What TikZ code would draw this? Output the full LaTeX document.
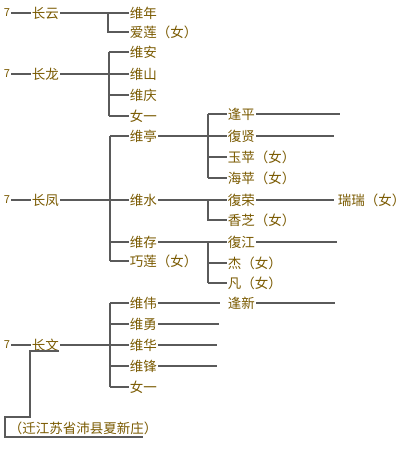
\documentclass[tikz,border=0pt]{standalone}
\usepackage{fontspec}
\setmainfont{Noto Sans CJK SC}
\definecolor{txt}{RGB}{122,90,0}
\definecolor{lncol}{RGB}{90,90,90}
\begin{document}
\begin{tikzpicture}[x=1pt,y=-1pt,
  nm/.style={anchor=west,inner sep=1.2pt,text=txt,font=\fontsize{13.5}{13.5}\selectfont},
  qm/.style={text=txt,inner sep=1pt,font=\fontsize{11}{11}\selectfont},
  ln/.style={draw=lncol,line width=1.3pt}]
\useasboundingbox[fill=white] (0,0) rectangle (416,451);
% generation 0
\node[qm] (q1) at (7,13) {7};
\node[qm] (q2) at (7,74) {7};
\node[qm] (q3) at (7,200) {7};
\node[qm] (q4) at (7,345) {7};
% generation 1
\node[nm] (g1) at (30.5,13) {长云};
\node[nm] (g2) at (30.5,74) {长龙};
\node[nm] (g3) at (30.5,200) {长凤};
\node[nm] (g4) at (30.5,345) {长文};
% generation 2
\node[nm] (c11) at (128.5,13) {维年};
\node[nm] (c12) at (128.5,32) {爱莲（女）};
\node[nm] (c21) at (128.5,52) {维安};
\node[nm] (c22) at (128.5,74) {维山};
\node[nm] (c23) at (128.5,95) {维庆};
\node[nm] (c24) at (128.5,116) {女一};
\node[nm] (c31) at (128.5,136) {维亭};
\node[nm] (c32) at (128.5,200) {维水};
\node[nm] (c33) at (128.5,242) {维存};
\node[nm] (c34) at (128.5,261) {巧莲（女）};
\node[nm] (c41) at (128.5,303) {维伟};
\node[nm] (c42) at (128.5,324) {维勇};
\node[nm] (c43) at (128.5,345) {维华};
\node[nm] (c44) at (128.5,366) {维锋};
\node[nm] (c45) at (128.5,387) {女一};
% generation 3
\node[nm] (d11) at (226.5,114) {逢平};
\node[nm] (d12) at (226.5,136) {復贤};
\node[nm] (d13) at (226.5,157) {玉苹（女）};
\node[nm] (d14) at (226.5,178) {海苹（女）};
\node[nm] (d21) at (226.5,200) {復荣};
\node[nm] (d22) at (226.5,220) {香芝（女）};
\node[nm] (d31) at (226.5,242) {復江};
\node[nm] (d32) at (226.5,263) {杰（女）};
\node[nm] (d33) at (226.5,283) {凡（女）};
\node[nm] (d41) at (226.5,303) {逢新};
% generation 4
\node[nm] (r1) at (336.5,200) {瑞瑞（女）};
% note
\node[nm] (note) at (7.5,428) {（迁江苏省沛县夏新庄）};
% bar positions
\coordinate (b1) at (108,0);
\coordinate (b2) at (109,0);
\coordinate (b3) at (110,0);
\coordinate (b4) at (110,0);
\coordinate (b5) at (208,0);
% ends of open lines
\coordinate (e1) at (340,0);
\coordinate (e2) at (334,0);
\coordinate (e3) at (337,0);
\coordinate (e4) at (335,0);
\coordinate (e5) at (220,0);
\coordinate (e6) at (219,0);
\coordinate (e7) at (217,0);
% 7 -- names
\foreach \a/\b in {q1/g1,q2/g2,q3/g3,q4/g4} \draw[ln] (\a) -- (\b);
% family 1
\draw[ln] (g1) -- (c11);
\draw[ln] (c11.west -| b1) |- (c12.west);
% family 2
\draw[ln] (g2) -- (c22);
\draw[ln] (c21.west -| b2) -- (c24.west -| b2);
\foreach \n in {c21,c23,c24} \draw[ln] (\n.west -| b2) -- (\n.west);
% family 3
\draw[ln] (g3) -- (c32);
\draw[ln] (c31.west -| b3) -- (c34.west -| b3);
\foreach \n in {c31,c33,c34} \draw[ln] (\n.west -| b3) -- (\n.west);
% family 4
\draw[ln] (g4) -- (c43);
\draw[ln] (c41.west -| b4) -- (c45.west -| b4);
\foreach \n in {c41,c42,c44,c45} \draw[ln] (\n.west -| b4) -- (\n.west);
% 维亭
\draw[ln] (c31.east) -- (d12);
\draw[ln] (d11.west -| b5) -- (d14.west -| b5);
\foreach \n in {d11,d13,d14} \draw[ln] (\n.west -| b5) -- (\n.west);
\draw[ln] (d11.east) -- (d11.east -| e1);
\draw[ln] (d12.east) -- (d12.east -| e2);
% 维水
\draw[ln] (c32.east) -- (d21);
\draw[ln] (d21.west -| b5) |- (d22.west);
\draw[ln, shorten >=3pt] (d21.east) -- (r1.west);
% 维存
\draw[ln] (c33.east) -- (d31);
\draw[ln] (d31.west -| b5) -- (d33.west -| b5);
\draw[ln] (d32.west -| b5) -- (d32.west);
\draw[ln] (d33.west -| b5) -- (d33.west);
\draw[ln] (d31.east) -- (d31.east -| e3);
% 维伟 and brothers
\draw[ln] (c41.east) -- (c41.east -| e5);
\draw[ln] (d41.east) -- (d41.east -| e4);
\draw[ln] (c42.east) -- (c42.east -| e6);
\draw[ln] (c43.east) -- (c43.east -| e7);
\draw[ln] (c44.east) -- (c44.east -| e7);
% bracket to note
\coordinate (u1) at (59,351);
\coordinate (u2) at (30,351);
\coordinate (k1) at (30,417);
\coordinate (k2) at (5,417);
\coordinate (k3) at (5,437);
\coordinate (k4) at (143,437);
\draw[ln] (u1) -- (u2) -- (k1) -- (k2) -- (k3) -- (k4);
\end{tikzpicture}
\end{document}
